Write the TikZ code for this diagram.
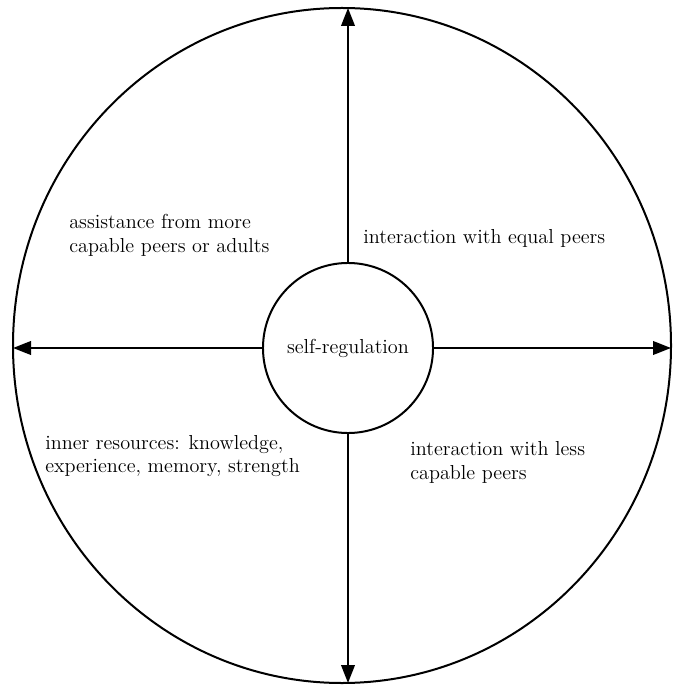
\documentclass[tikz,border=0pt]{standalone}
\usepackage{tikz}
\usetikzlibrary{arrows.meta}

\begin{document}
\begin{tikzpicture}[x=0.025cm, y=-0.025cm,
		every node/.style={font=\fontsize{14.4}{17}\selectfont},
		labeltext/.style={anchor=west, align=left, inner sep=0pt},
		spoke/.style={line width=0.5mm, -{Triangle[length=4.5mm, width=3.4mm]}}]
		%%%%% START %%%%%
		
		\useasboundingbox (0, 0) rectangle (675, 688);
		
		\draw[line width=0.5mm] (342, 345.5) ellipse [x radius=329, y radius=337.5];
		\node[draw, circle, line width=0.5mm, minimum size=4.25cm, inner sep=0pt] (selfreg) at (348, 348) {self-regulation};
		
		\coordinate (rimtop) at (348, 8);
		\coordinate (rimbottom) at (348, 683);
		\coordinate (rimleft) at (13, 348);
		\coordinate (rimright) at (671, 348);
		
		\draw[spoke] (selfreg.north) -- (rimtop);
		\draw[spoke] (selfreg.south) -- (rimbottom);
		\draw[spoke] (selfreg.west) -- (rimleft);
		\draw[spoke] (selfreg.east) -- (rimright);
		
		\node[labeltext] (upleft) at (69, 235) {assistance from more\\capable peers or adults};
		\node[labeltext] (upright) at (363, 238) {interaction with equal peers};
		\node[labeltext] (lowleft) at (45, 456) {inner resources: knowledge,\\experience, memory, strength};
		\node[labeltext] (lowright) at (410, 462) {interaction with less\\capable peers};
		
		%%%%% END %%%%%
	\end{tikzpicture}
\end{document}
